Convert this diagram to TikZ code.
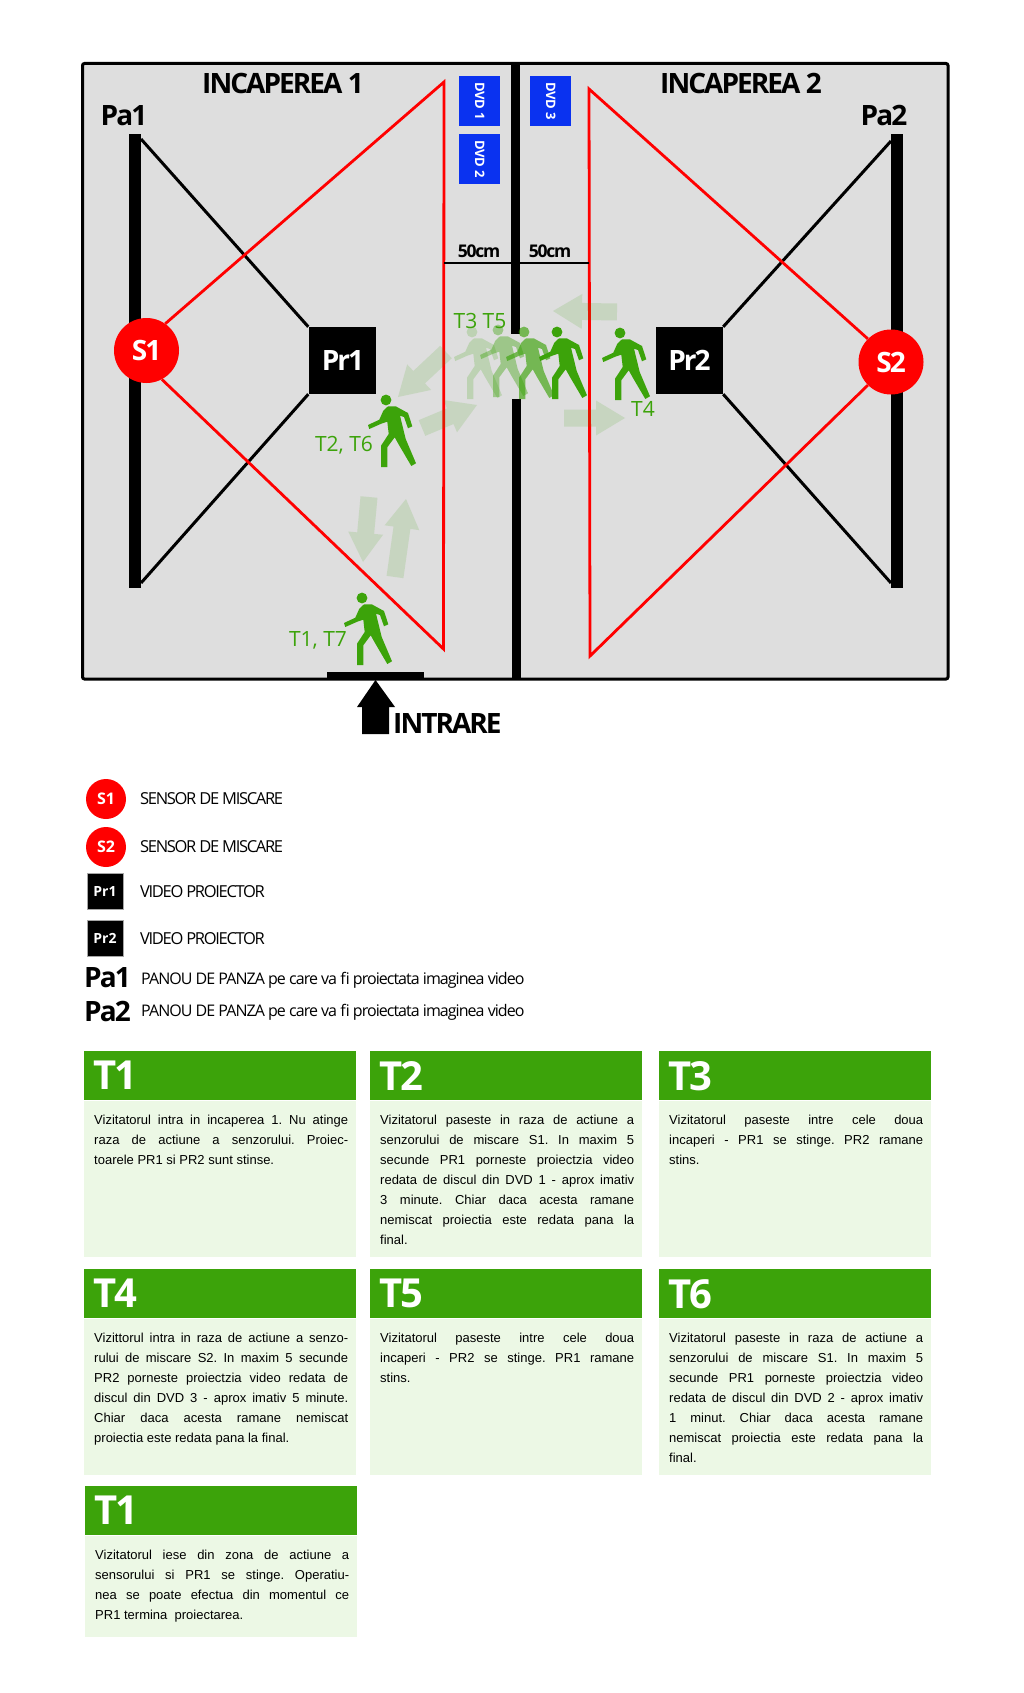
\documentclass[tikz,border=0pt]{standalone}
\usepackage{fontspec}
\setmainfont{Open Sans}
\newfontfamily\tightfont[LetterSpace=-7]{Open Sans}
\newfontfamily\midfont[LetterSpace=-6]{Open Sans}
\newfontfamily\legendfont[LetterSpace=-8]{Open Sans}
\newfontfamily\bodyfont{Liberation Sans}
\usetikzlibrary{positioning,calc}
\definecolor{roomgrey}{HTML}{DEDEDE}
\definecolor{walkgreen}{HTML}{3CA30A}
\definecolor{cardgreen}{HTML}{ECF8E5}
\definecolor{dvdblue}{HTML}{0A32F0}
\tikzset{
    wall/.style={fill=black,inner sep=0pt,minimum width=9pt},
    panel/.style={fill=black,inner sep=0pt,minimum width=12pt,minimum height=454pt,anchor=north},
    sensor/.style={circle,fill=red,text=white,inner sep=0pt,minimum size=65pt,font=\tightfont\bfseries\fontsize{28}{30}\selectfont},
    proj/.style={fill=black,text=white,inner sep=0pt,minimum width=67pt,minimum height=67pt,font=\tightfont\bfseries\fontsize{28}{30}\selectfont},
    sensorsmall/.style={sensor,minimum size=40pt,font=\bfseries\fontsize{16}{18}\selectfont},
    projsmall/.style={proj,minimum width=36pt,minimum height=36pt,draw=gray!70,line width=0.5pt,font=\bfseries\fontsize{14}{16}\selectfont},
    dvd/.style={fill=dvdblue,text=white,inner sep=0pt,minimum width=41pt,minimum height=50pt,anchor=north west},
    dvdlabel/.style={text=white,rotate=-90,inner sep=0pt,font=\bfseries\fontsize{13}{15}\selectfont},
    title/.style={inner sep=0pt,font=\tightfont\bfseries\fontsize{28}{30}\selectfont},
    dist/.style={inner sep=0pt,font=\tightfont\bfseries\fontsize{17.5}{20}\selectfont},
    stamp/.style={text=walkgreen,inner sep=0pt,font=\fontsize{21}{24}\selectfont},
    legend/.style={inner sep=0pt,anchor=west,font=\legendfont\fontsize{16.5}{18}\selectfont},
    legendlong/.style={inner sep=0pt,anchor=west,font=\midfont\fontsize{16}{18}\selectfont},
    redline/.style={red,line width=2.8pt,line join=miter},
    rayline/.style={black,line width=3pt},
    cardhead/.style={fill=walkgreen,text=white,anchor=north west,inner sep=0pt,text width=254pt,align=left,
        minimum width=272pt,minimum height=49pt,text depth=0pt,font=\midfont\bfseries\fontsize{40}{42}\selectfont},
    cardbody/.style={fill=cardgreen,anchor=north,inner sep=0pt,minimum width=272pt,minimum height=156pt},
    cardtext/.style={inner sep=0pt,text width=254pt,align=justify,font=\bodyfont\frenchspacing\fontsize{13}{20}\selectfont},
    ghost/.style={fill=walkgreen,opacity=0.14},
}
%% one walking figure, head centre at #1
\newcommand{\walker}[2]{%
    \begin{scope}[shift={(#1)},opacity=#2,fill=walkgreen]
        \fill (0,0) circle (5.4);
        \fill (-18,25) -- (-6.7,19.7) -- (-2.7,10.7) -- (2,6.3) -- (9.7,6.3) -- (22,13) -- (26.3,26.3) -- (22,28.3)
            -- (18,17) -- (14,15.7) -- (19.7,39) -- (30,63.3) -- (25.3,66) -- (13,45) -- (8.7,37.3) -- (1.3,47.3)
            -- (1.3,67) -- (-5,67) -- (-5,45.7) -- (2.7,34) -- (1.3,21.7) -- (-4.7,23.7) -- (-16.7,29) -- cycle;
    \end{scope}}
%% thick pale arrow from #1 to #2
\newcommand{\ghostarrow}[2]{%
    \coordinate (ga) at (#1);
    \coordinate (gb) at (#2);
    \coordinate (gh) at ($(gb)!29pt!(ga)$);
    \fill[ghost] ($(ga)!8.5pt!90:(gb)$) -- ($(gh)!8.5pt!90:(gb)$) -- ($(gh)!17.5pt!90:(gb)$) -- (gb)
        -- ($(gh)!17.5pt!-90:(gb)$) -- ($(gh)!8.5pt!-90:(gb)$) -- ($(ga)!8.5pt!-90:(gb)$) -- cycle;}
\begin{document}
\begin{tikzpicture}[x=1pt,y=-1pt]
    \useasboundingbox (0,0) rectangle (1024,1693);
    %% rooms
    \draw[fill=roomgrey,line width=3pt,rounded corners=2pt] (82.5,63.5) rectangle (948,679);
    \node[wall,minimum height=271pt,anchor=north] (wallA) at (515.5,63) {};
    \node[wall,minimum height=280pt,anchor=south] (wallB) at (516.5,679) {};
    \node[title] (room1) at (283,84) {INCAPEREA 1};
    \node[title] (room2) at (741,84) {INCAPEREA 2};
    %% panels
    \node[panel] (Pa1bar) at (135,134) {};
    \node[panel] (Pa2bar) at (897,134) {};
    \node[title] (Pa1) at (124,116) {Pa1};
    \node[title] (Pa2) at (884,116) {Pa2};
    %% projectors
    \node[proj] (Pr1) at (342,360.5) {\hspace{2pt}Pr1};
    \node[proj] (Pr2) at (689.5,360.5) {Pr2};
    \coordinate (Pa1top) at (141,139);
    \coordinate (Pa1bot) at (141,583);
    \coordinate (Pa2top) at (891,141);
    \coordinate (Pa2bot) at (891,583);
    \draw[rayline] (Pa1top) -- (Pr1.north west);
    \draw[rayline] (Pa1bot) -- (Pr1.south west);
    \draw[rayline] (Pa2top) -- (Pr2.north east);
    \draw[rayline] (Pa2bot) -- (Pr2.south east);
    %% sensors
    \node[sensor] (S1) at (146.5,350.5) {S1};
    \node[sensor] (S2) at (891,362) {S2};
    \coordinate (R1top) at (444,82);
    \coordinate (R1bot) at (443.5,649);
    \coordinate (R2top) at (589,89);
    \coordinate (R2bot) at (590,656);
    \draw[redline] (S1.55) -- (R1top) -- (R1bot) -- (S1.-62);
    \draw[redline] (S2.135) -- (R2top) -- (R2bot) -- (S2.225);
    %% dvds
    \node[dvd] (dvd1) at (459,76) {};
    \node[dvd] (dvd2) at (459,134) {};
    \node[dvd] (dvd3) at (530,76) {};
    \node[dvdlabel] at (dvd1) {DVD 1};
    \node[dvdlabel] at (dvd2) {DVD 2};
    \node[dvdlabel] at (dvd3) {DVD 3};
    %% distance
    \coordinate (d1) at (444,263);
    \coordinate (d2) at (589,263);
    \draw[line width=2pt] (d1) -- (wallA.west |- d1);
    \draw[line width=2pt] (d2) -- (wallA.east |- d2);
    \node[dist] (cm1) at (479,251) {50cm};
    \node[dist] (cm2) at (550,251) {50cm};
    %% entrance
    \node[fill=black,inner sep=0pt,minimum width=97pt,minimum height=8pt,anchor=south] (door) at (375.5,680) {};
    \draw[fill=black,draw=none] (door.south) -- (395,707) -- (389,707) -- (389,734) -- (362,734) -- (362,707) -- (357,707) -- cycle;
    \node[title,anchor=west] (intrare) at (393,723) {INTRARE};
    %% movement arrows
    \ghostarrow{446,352}{398,397}
    \ghostarrow{422,428}{477,405}
    \ghostarrow{617,312}{553,311}
    \ghostarrow{564,418}{625,418}
    \ghostarrow{369,497}{363,562}
    \ghostarrow{395,577}{406,499}
    %% walkers
    \walker{472,332}{0.2}
    \walker{498,330}{0.4}
    \walker{524,332}{0.65}
    \walker{557,332}{1}
    \walker{620,333}{1}
    \walker{386,400}{1}
    \walker{362,598}{1}
    \node[stamp] (t35) at (480,321) {T3 T5};
    \node[stamp] (t26) at (344,445) {T2, T6};
    \node[stamp] (t4) at (643,409) {T4};
    \node[stamp] (t17) at (318,640) {T1, T7};
    %% legend
    \node[sensorsmall] (ls1) at (106,799) {S1};
    \node[sensorsmall] (ls2) at (106,847) {S2};
    \node[projsmall] (lp1) at (105,891) {Pr1};
    \node[projsmall] (lp2) at (105,938) {Pr2};
    \node[title,anchor=west] (la1) at (84,978) {Pa1};
    \node[title,anchor=west] (la2) at (84,1011) {Pa2};
    \node[legend] at (140,799) {SENSOR DE MISCARE};
    \node[legend] at (140,847) {SENSOR DE MISCARE};
    \node[legend] at (140,892) {VIDEO PROIECTOR};
    \node[legend] at (140,939) {VIDEO PROIECTOR};
    \node[legendlong] at (141,980) {PANOU DE PANZA pe care va fi proiectata imaginea video};
    \node[legendlong] at (141,1012) {PANOU DE PANZA pe care va fi proiectata imaginea video};
    %% cards, first row
    \node[cardhead] (T1h) at (84,1051) {T1};
    \node[cardbody,below=0pt of T1h] (T1b) {};
    \node[cardtext,below right=14pt and 10pt of T1b.north west] (T1t) {Vizitatorul intra in incaperea 1. Nu atinge\linebreak raza de actiune a senzorului. Proiec-\linebreak toarele PR1 si PR2 sunt stinse.};
    \node[cardhead] (T2h) at (370,1051) {T2};
    \node[cardbody,below=0pt of T2h] (T2b) {};
    \node[cardtext,below right=14pt and 10pt of T2b.north west] (T2t) {Vizitatorul paseste in raza de actiune a\linebreak senzorului de miscare S1. In maxim 5\linebreak secunde PR1 porneste proiectzia video\linebreak redata de discul din DVD 1 - aprox imativ\linebreak 3 minute. Chiar daca acesta ramane\linebreak nemiscat proiectia este redata pana la\linebreak final.};
    \node[cardhead] (T3h) at (659,1051) {T3};
    \node[cardbody,below=0pt of T3h] (T3b) {};
    \node[cardtext,below right=14pt and 10pt of T3b.north west] (T3t) {Vizitatorul paseste intre cele doua\linebreak incaperi - PR1 se stinge. PR2 ramane\linebreak stins.};
    %% second row
    \node[cardhead] (T4h) at (84,1269) {T4};
    \node[cardbody,below=0pt of T4h] (T4b) {};
    \node[cardtext,below right=14pt and 10pt of T4b.north west] (T4t) {Vizittorul intra in raza de actiune a senzo-\linebreak rului de miscare S2. In maxim 5 secunde\linebreak PR2 porneste proiectzia video redata de\linebreak discul din DVD 3 - aprox imativ 5 minute.\linebreak Chiar daca acesta ramane nemiscat\linebreak proiectia este redata pana la final.};
    \node[cardhead] (T5h) at (370,1269) {T5};
    \node[cardbody,below=0pt of T5h] (T5b) {};
    \node[cardtext,below right=14pt and 10pt of T5b.north west] (T5t) {Vizitatorul paseste intre cele doua\linebreak incaperi - PR2 se stinge. PR1 ramane\linebreak stins.};
    \node[cardhead] (T6h) at (659,1269) {T6};
    \node[cardbody,below=0pt of T6h] (T6b) {};
    \node[cardtext,below right=14pt and 10pt of T6b.north west] (T6t) {Vizitatorul paseste in raza de actiune a\linebreak senzorului de miscare S1. In maxim 5\linebreak secunde PR1 porneste proiectzia video\linebreak redata de discul din DVD 2 - aprox imativ\linebreak 1 minut. Chiar daca acesta ramane\linebreak nemiscat proiectia este redata pana la\linebreak final.};
    %% third row
    \node[cardhead] (T7h) at (85,1486) {T1};
    \node[cardbody,below=0pt of T7h,minimum height=101pt] (T7b) {};
    \node[cardtext,below right=14pt and 10pt of T7b.north west] (T7t) {Vizitatorul iese din zona de actiune a\linebreak sensorului si PR1 se stinge. Operatiu-\linebreak nea se poate efectua din momentul ce\linebreak PR1 termina\ \ proiectarea.};
\end{tikzpicture}
\end{document}
